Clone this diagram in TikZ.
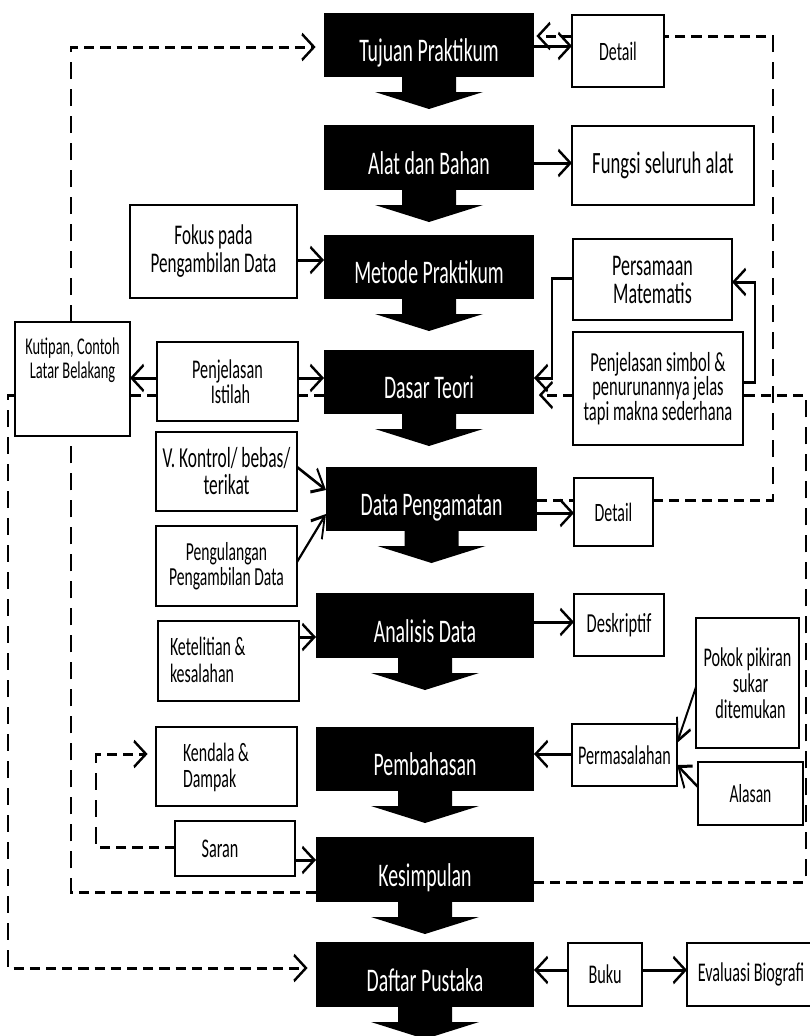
\documentclass[tikz,border=0pt]{standalone}
\usepackage{fontspec}
\setmainfont{Carlito}
\usetikzlibrary{arrows.meta,calc}
\newcommand{\fsz}[2]{\fontsize{#1}{#2}\selectfont}
\newcommand{\flowarrow}[1]{\fill (#1.south) ++(-27,0) -- ++(0,15) -- ++(-27,0) -- ++(54,17) -- ++(54,-17) -- ++(-27,0) -- ++(0,-15) -- cycle;}
\tikzset{
  boxat/.style n args={4}{minimum width={(#3-#1)*5pt/3}, minimum height={(#4-#2)*1pt}, at={({(#1+#3)/2},{(#2+#4)/2})}},
  blk/.style={rectangle, fill=black, inner sep=0pt, outer sep=0pt, text=white, font=\fsz{33}{33}, text height=33pt, text depth=0pt},
  wbox/.style={rectangle, draw=black, fill=white, line width=2.5pt, inner sep=0pt, outer sep=0pt, align=center},
  txt/.style={inner sep=0pt, outer sep=0pt},
  con/.style={line width=3pt, -{Straight Barb[length=20pt,width=26pt]}},
  dsh/.style={line width=3pt, dash pattern=on 17pt off 10pt},
  dsha/.style={dsh, shorten >=14pt, -{Straight Barb[length=20pt,width=26pt]}},
}
\begin{document}
\begin{tikzpicture}[x=1.666667pt,y=-1pt]
\path[use as bounding box, fill=white] (0pt,0pt) rectangle (810pt,-1036pt);
\begin{scope}[transform canvas={xscale=0.6}]
% main black boxes
\node[blk, boxat={324}{13}{534}{77}] (tp) {Tujuan Praktikum};
\node[blk, boxat={324}{125}{534}{190}] (ab) {Alat dan Bahan};
\node[blk, boxat={324}{235}{534}{299}] (mp) {Metode Praktikum};
\node[blk, boxat={324}{350}{534}{414}] (dt) {Dasar Teori};
\node[blk, boxat={326}{467}{537}{531}] (dp) {Data Pengamatan};
\node[blk, boxat={316}{593}{534}{658}] (ad) {Analisis Data};
\node[blk, boxat={316}{727}{534}{791}] (pb) {Pembahasan};
\node[blk, boxat={316}{837}{534}{902}] (ks) {Kesimpulan};
\node[blk, boxat={316}{942}{534}{1007}] (da) {Daftar Pustaka};
\flowarrow{tp}\flowarrow{ab}\flowarrow{mp}\flowarrow{dt}\flowarrow{dp}
\flowarrow{ad}\flowarrow{pb}\flowarrow{ks}\flowarrow{da}
% white boxes
\node[wbox, font=\fsz{26.5}{26}, boxat={572}{15}{664}{87}] (det1) {Detail};
\node[wbox, font=\fsz{31}{30}, boxat={572}{126}{754}{205}] (fsa) {Fungsi seluruh alat};
\node[wbox, font=\fsz{28.5}{28}, boxat={130}{205}{297}{298}] (fok) {Fokus pada\\Pengambilan Data};
\node[wbox, font=\fsz{30}{28}, boxat={573}{239}{732}{320}] (pm) {Persamaan\\Matematis};
\node[wbox, font=\fsz{27.5}{21.5}, boxat={573}{332}{743}{445}] (ps) {Penjelasan simbol \&\\penurunannya jelas\\tapi makna sederhana};
\node[wbox, boxat={15}{322}{130}{436}] (kut) {};
\node[txt, font=\fsz{24}{24}, align=center, anchor=north] at ([yshift=-16pt]kut.north) {Kutipan, Contoh\\Latar Belakang};
\node[wbox, font=\fsz{27}{25}, boxat={157}{342}{298}{421}] (pi) {Penjelasan\\\hspace*{10pt}Istilah};
\node[wbox, font=\fsz{29}{27}, boxat={156}{432}{297}{511}] (vk) {V. Kontrol/ bebas/\\terikat};
\node[wbox, font=\fsz{26}{25}, boxat={156}{526}{297}{606}] (pe) {Pengulangan\\Pengambilan Data};
\node[wbox, font=\fsz{26.5}{26}, boxat={574}{478}{653}{546}] (det2) {Detail};
\node[wbox, boxat={158}{621}{299}{701}] (kt) {};
\node[txt, font=\fsz{26.5}{27}, align=left, anchor=west] at (170,660) {Ketelitian \&\\kesalahan};
\node[wbox, font=\fsz{27.5}{26}, boxat={574}{594}{664}{656}] (ds) {Deskriptif};
\node[wbox, font=\fsz{27}{26}, boxat={696}{618}{799}{748}] (pok) {Pokok pikiran\\\hspace*{10pt}sukar\\\hspace*{10pt}ditemukan};
\node[wbox, font=\fsz{27}{26}, boxat={572}{724}{677}{786}] (perm) {Permasalahan};
\node[wbox, font=\fsz{26}{26}, boxat={698}{762}{803}{825}] (alas) {Alasan};
\node[wbox, boxat={156}{727}{297}{806}] (kd) {};
\node[txt, font=\fsz{26.5}{26}, align=left, anchor=west] at (183,767) {Kendala \&\\Dampak};
\node[wbox, boxat={175}{821}{295}{876}] (sar) {};
\node[txt, font=\fsz{27}{26}] at (220,849) {Saran};
\node[wbox, font=\fsz{27}{26}, boxat={568}{943}{642}{1006}] (buku) {Buku};
\node[wbox, font=\fsz{27}{26}, boxat={687}{943}{815}{1006}] (evb) {Evaluasi Biografi};
% solid connectors
\draw[con] (tp.east|-0,46) -- (det1.west|-0,46);
\draw[con] (ab.east|-0,163) -- (fsa.west|-0,163);
\draw[con] (fok.east|-0,260) -- (mp.west|-0,260);
\draw[con] (pi.west|-0,378) -- (kut.east|-0,378);
\draw[con] (pi.east|-0,378) -- (dt.west|-0,378);
\draw[con] (pm.west|-0,278) -- (552,278) -- (552,378) -- (dt.east|-0,378);
\draw[con] (ps.east|-0,382) -- (755,382) -- (755,282) -- (pm.east|-0,282);
\draw[con] (vk.east|-0,467) -- (dp.west|-0,490);
\draw[con] (pe.east|-0,562) -- (dp.west|-0,514);
\draw[con] (dp.east|-0,513) -- (det2.west|-0,513);
\draw[con] (kt.east|-0,637) -- (ad.west|-0,637);
\draw[con] (ad.east|-0,622) -- (ds.west|-0,622);
\draw[con] (pok.west|-0,687) -- (perm.east|-0,743);
\draw[con] (alas.west|-0,787) -- (perm.east|-0,765);
\draw[con] (perm.west|-0,754) -- (pb.east|-0,754);
\draw[con] (sar.east|-0,860) -- (ks.west|-0,860);
\draw[con] (buku.west|-0,970) -- (da.east|-0,970);
\draw[con] (buku.east|-0,970) -- (evb.west|-0,970);
% dashed connectors
\draw[dsh] (dp.east|-0,500) -- (det2.west|-0,500);
\draw[dsh] (det2.east|-0,500) -- (773,500) -- (773,36) -- (det1.east|-0,36);
\draw[dsha, shorten >=4pt] (det1.west|-0,36) -- (tp.east|-0,36);
\draw[dsh] (ks.east|-0,882) -- (806,882) -- (806,395) -- (ps.east|-0,395);
\draw[dsha, shorten >=8pt] (ps.west|-0,395) -- (dt.east|-0,395);
\draw[dsh] (ks.west|-0,892) -- (71,892) -- (kut.south-|71,0);
\draw[dsha] (kut.north-|71,0) -- (71,47) -- (tp.west|-0,47);
\draw[dsh] (dt.west|-0,395) -- (pi.east|-0,395);
\draw[dsh] (pi.west|-0,395) -- (kut.east|-0,395);
\draw[dsha] (kut.west|-0,395) -- (8,395) -- (8,968) -- (da.west|-0,968);
\draw[dsha] (sar.west|-0,847) -- (96,847) -- (96,754) -- (kd.west|-0,754);
\end{scope}
\end{tikzpicture}
\end{document}
